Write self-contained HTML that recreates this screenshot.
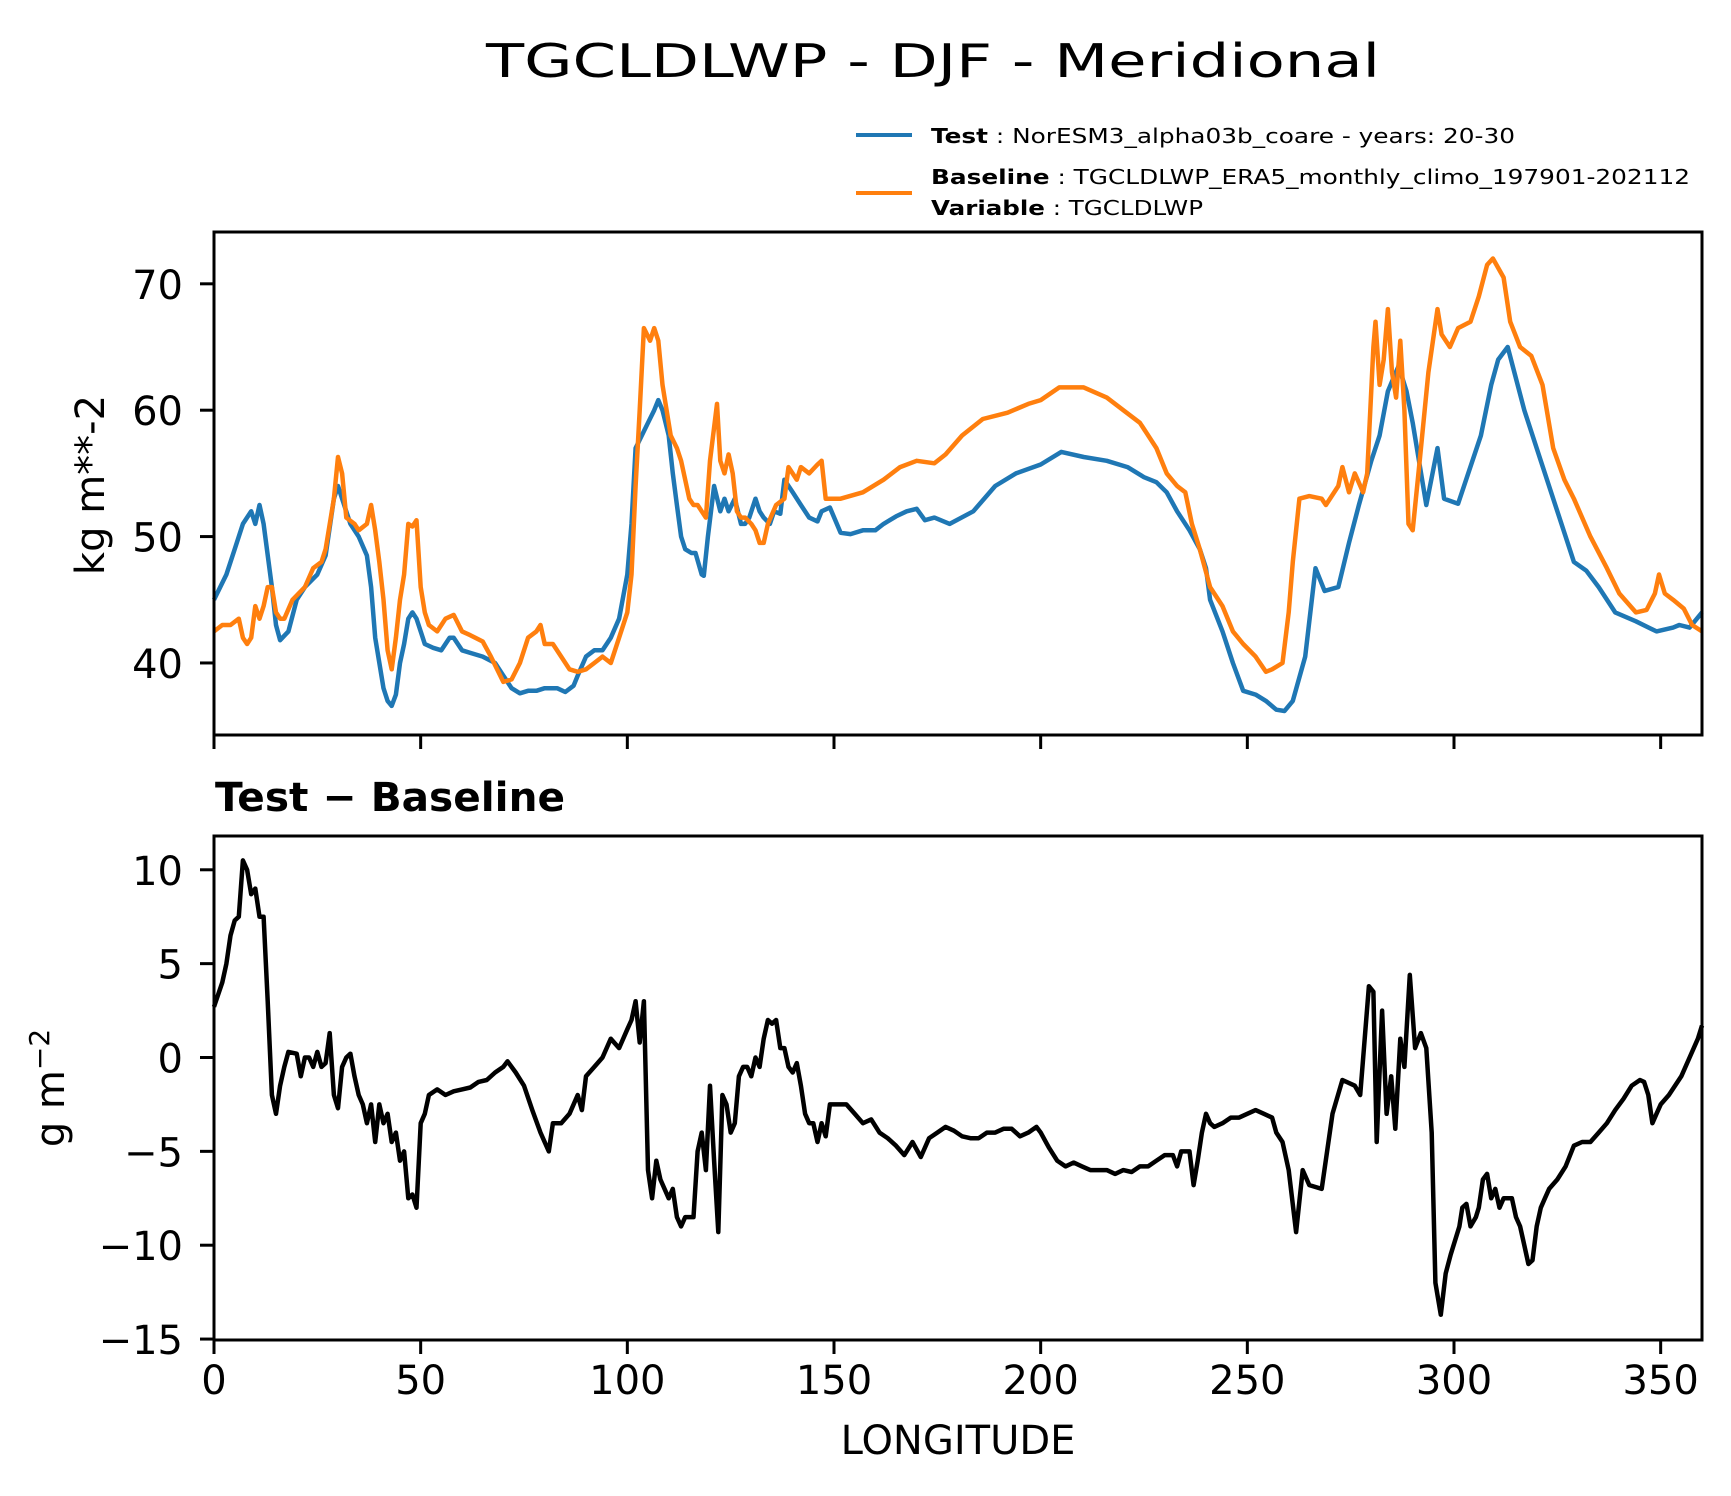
<!DOCTYPE html>
<html><head><meta charset="utf-8"><style>
html,body{margin:0;padding:0;background:#fff}
svg{display:block}
text{font-family:"DejaVu Sans","Liberation Sans",sans-serif;fill:#000}
</style></head><body>
<svg id="chart" width="1731" height="1496" viewBox="0 0 1731 1496" xmlns="http://www.w3.org/2000/svg">
<text x="933" y="77" font-size="46" text-anchor="middle" textLength="894" lengthAdjust="spacingAndGlyphs">TGCLDLWP - DJF - Meridional</text>
<g>
<line x1="856" y1="135" x2="912" y2="135" stroke="#1f77b4" stroke-width="4"/>
<text x="931" y="143" font-size="20" textLength="584" lengthAdjust="spacingAndGlyphs"><tspan font-weight="bold">Test</tspan> : NorESM3_alpha03b_coare - years: 20-30</text>
<line x1="856" y1="193" x2="912" y2="193" stroke="#ff7f0e" stroke-width="4"/>
<text x="931" y="184" font-size="20" textLength="759" lengthAdjust="spacingAndGlyphs"><tspan font-weight="bold">Baseline</tspan> : TGCLDLWP_ERA5_monthly_climo_197901-202112</text>
<text x="931" y="215" font-size="20" textLength="272" lengthAdjust="spacingAndGlyphs"><tspan font-weight="bold">Variable</tspan> : TGCLDLWP</text>
</g>
<g id="topPanel"></g>
<g id="botPanel"></g>
<text transform="translate(104,485) rotate(-90)" font-size="40" text-anchor="middle">kg m**-2</text>
<text transform="translate(64,1088) rotate(-90)" font-size="40" text-anchor="middle">g m<tspan font-size="28" dy="-15">−2</tspan></text>
<text x="215" y="811" font-size="40" font-weight="bold" textLength="350" lengthAdjust="spacingAndGlyphs">Test − Baseline</text>
<text x="958" y="1454" font-size="40" text-anchor="middle">LONGITUDE</text>
</svg>
<script>
const xTicks=[0,50,100,150,200,250,300,350];
const topYTicks=[40,50,60,70];
const botYTicks=[10,5,0,-5,-10,-15];
const blueLon=[0,3,5,7,9,10,11,12,14,15,16,18,20,22,25,27,29,30,31,33,35,37,38,39,41,42,43,44,45,46,47,48,49,50,51,53,55,57,58,60,62,65,68,70,72,74,76,78,80,83,85,87,88,90,92,94,96,98,100,101,102,103.5,105,106.5,107.5,108.5,110,111,112,113,114,115.5,116.5,118,118.5,119.5,121,122.5,123.5,124.5,126,127.5,128.5,129.5,131,132,133,134.5,135.5,137,138,139,140,142,144,146,147,149,151.6,154,157,160,162,165,167.6,170,172,174.3,178,183.7,189,194,200,205,210.4,216,221,225,228,230.5,233,236,238.5,240,241,244,246.5,249,252,254.5,257,259,261,264,266.5,268.7,272,274.6,277,280,282,284,286.6,288.5,290,293.3,296,297.6,301,306.5,309,310.7,313,317,321,325.5,329,332,335,339,344,349,353,354.5,357,360];
const blueVal=[45,47,49,51,52,51,52.5,51,46,43,41.8,42.5,45,46,47,48.5,53,54,53,51,50,48.5,46,42,38,37,36.6,37.5,40,41.5,43.5,44,43.5,42.5,41.5,41.2,41,42,42,41,40.8,40.5,40,39,38,37.6,37.8,37.8,38,38,37.7,38.2,39,40.5,41,41,42,43.5,47,51,57,58,59,60,60.8,60,58,55,52.5,50,49,48.7,48.7,47,46.9,50,54,52,53,52,53,51,51,51.5,53,52,51.5,51,52,51.8,54.5,54,53.5,52.5,51.5,51.2,52,52.3,50.3,50.2,50.5,50.5,51,51.6,52,52.2,51.3,51.5,51,52,54,55,55.7,56.7,56.3,56,55.5,54.7,54.3,53.5,52,50.5,49,47.5,45,42.5,40,37.8,37.5,37,36.3,36.2,37,40.5,47.5,45.7,46,49.5,52.5,56,58,61.5,63.5,61.5,59,52.5,57,53,52.6,58,62,64,65,60,56,51.5,48,47.3,46,44,43.3,42.5,42.8,43,42.8,44,44.3];
const orangeLon=[0,2,4,6,7,8,9,10,11,12,13,14,15,16,17,19,22,24,26,27,29,30,31,32,34,35,37,38,39,40,41,42,43,44,45,46,47,48,49,50,51,52,54,56,58,60,62,65,67,70,72,74,76,78,79,80,82,84,86,88,90,92,94,96,98,100,101,102,103,104,105.5,106.5,107.5,108.5,109.5,110.5,112,113,115,116,117,118,119,120,121.7,122.5,123.5,124.5,125.5,126.5,127.5,128.5,130,131,132,133,134,136,138,139,141,142,144,146,147,148,151.6,157,162,166,170,174.3,177,181,186,192,197,200,204.5,210.4,216,220,224,228,230.5,233,235,236.6,238.5,241,244,246.5,249,252,254.5,256,258.5,260,261,262.6,265,268,269,272,273,274.6,276,278,279,280.5,281,282,283,284,285,286,287,288,289,290,291.7,293.8,296,297,299,301,304,306,308,309.4,312,313.6,316,318.7,321.4,324,326.7,329,333,337,340,344,346.6,348.6,349.6,351,353,355.6,357.6,360];
const orangeVal=[42.5,43,43,43.5,42,41.5,42,44.5,43.5,44.5,46,46,44,43.5,43.5,45,46,47.5,48,49,53,56.3,55,51.5,51,50.5,51,52.5,50.5,48,45,41,39.5,42,45,47,51,50.8,51.3,46,44,43,42.5,43.5,43.8,42.5,42.2,41.7,40.5,38.5,38.7,40,42,42.5,43,41.5,41.5,40.5,39.5,39.3,39.5,40,40.5,40,42,44,47,54,60,66.5,65.5,66.5,65.5,62,60,58,57,56,53,52.5,52.5,52,51.5,56,60.5,56,55,56.5,55,52,51.5,51.5,51,50.5,49.5,49.5,51,52.5,53,55.5,54.5,55.5,55,55.7,56,53,53,53.5,54.5,55.5,56,55.8,56.5,58,59.3,59.8,60.5,60.8,61.8,61.8,61,60,59,57,55,54,53.5,51,49,46,44.5,42.5,41.5,40.5,39.3,39.5,40,44,48,53,53.2,53,52.5,54,55.5,53.5,55,53.5,55,65,67,62,64,68,63,61,65.5,60,51,50.5,56,63,68,66,65,66.5,67,69,71.5,72,70.5,67,65,64.3,62,57,54.5,53,50,47.5,45.5,44,44.2,45.5,47,45.5,45,44.3,43,42.5];
const diffLon=[0,2,3,4,5,6,7,8,9,10,11,12,13,14,15,16,17,18,20,21,22,23,24,25,26,27,28,29,30,31,32,33,34,35,36,37,38,39,40,41,42,43,44,45,46,47,48,49,50,51,52,54,56,58,60,62,64,66,68,70,71,73,75,77,79,81,82,84,86,88,89,90,92,94,96,98,100,101,102,103,104,105,106,107,108,110,111,112,113,114,116,117,118,119,120,121,122,123,124,125,126,127,128,129,130,131,132,133,134,135,136,137,138,139,140,141,142,143,144,145,146,147,148,149,151,153,155,157,159,161,163,165,167,169,171,173,175,177,179,181,183,185,187,189,191,193,195,197,199,200,202,204,206,208,210,212,214,216,218,220,222,224,226,228,230,232,233,234,236,237,238,239,240,241,242,244,246,248,250,252,254,256,257,258.5,260,261.8,263.4,265,268,270.6,273,276,277.3,279.4,280.5,281.3,282.6,283.7,284.8,285.8,287,288,289.3,290.6,292,293.3,294.6,295.5,296.8,298,299.2,301.3,302,303,304,305.3,306,307,308,309,310,311,312,314,315,316,317,318,319,320,321,322,323,325,327,329,331,333,335,337,339,341,343,345,346,347,348,349,350,352,355,357,359,360];
const diffVal=[2.7,4,5,6.5,7.3,7.5,10.5,10,8.7,9,7.5,7.5,3,-2,-3,-1.5,-0.5,0.3,0.2,-1,0,0,-0.5,0.3,-0.5,-0.3,1.3,-2,-2.7,-0.5,0,0.2,-1,-2,-2.5,-3.5,-2.5,-4.5,-2.5,-3.5,-3,-4.5,-4,-5.5,-5,-7.5,-7.3,-8,-3.5,-3,-2,-1.7,-2,-1.8,-1.7,-1.6,-1.3,-1.2,-0.8,-0.5,-0.2,-0.8,-1.5,-2.8,-4,-5,-3.5,-3.5,-3,-2,-2.8,-1,-0.5,0,1,0.5,1.5,2,3,0.8,3,-6,-7.5,-5.5,-6.5,-7.5,-7,-8.5,-9,-8.5,-8.5,-5,-4,-6,-1.5,-5.5,-9.3,-2,-2.5,-4,-3.5,-1,-0.5,-0.5,-1,0,-0.5,1,2,1.8,2,0.5,0.5,-0.5,-0.8,-0.3,-1.5,-3,-3.5,-3.5,-4.5,-3.5,-4.2,-2.5,-2.5,-2.5,-3,-3.5,-3.3,-4,-4.3,-4.7,-5.2,-4.5,-5.3,-4.3,-4,-3.7,-3.9,-4.2,-4.3,-4.3,-4,-4,-3.8,-3.8,-4.2,-4,-3.7,-4,-4.8,-5.5,-5.8,-5.6,-5.8,-6,-6,-6,-6.2,-6,-6.1,-5.8,-5.8,-5.5,-5.2,-5.2,-5.8,-5,-5,-6.8,-5.5,-4,-3,-3.5,-3.7,-3.5,-3.2,-3.2,-3,-2.8,-3,-3.2,-4,-4.5,-6,-9.3,-6,-6.8,-7,-3,-1.2,-1.5,-2,3.8,3.5,-4.5,2.5,-3,-1,-3.8,1,-0.5,4.4,0.5,1.3,0.5,-4,-12,-13.7,-11.5,-10.5,-9,-8,-7.8,-9,-8.5,-8,-6.5,-6.2,-7.5,-7,-8,-7.5,-7.5,-8.5,-9,-10,-11,-10.8,-9,-8,-7.5,-7,-6.5,-5.8,-4.7,-4.5,-4.5,-4,-3.5,-2.8,-2.2,-1.5,-1.2,-1.3,-2,-3.5,-3,-2.5,-2,-1,0,1,1.7,1.6];

const NS='http://www.w3.org/2000/svg';
const L=214,R=1702;
const xs=v=>L+(v-0)/360*(R-L);
const topT=232,topB=735,topMin=34.3,topMax=74.1;
const ysTop=v=>topB-(v-topMin)/(topMax-topMin)*(topB-topT);
const botT=836,botB=1340,botMin=-15.05,botMax=11.8;
const ysBot=v=>botB-(v-botMin)/(botMax-botMin)*(botB-botT);
function mk(tag,attrs,parent){const e=document.createElementNS(NS,tag);for(const k in attrs)e.setAttribute(k,attrs[k]);parent.appendChild(e);return e;}
function panel(g,T,B,ys,yTicks,showXLabels,pfx){
  for(const t of yTicks){
    const tk=mk('line',{x1:L-14,x2:L,y1:ys(t),y2:ys(t),stroke:'#000','stroke-width':3},g);
    
    
    const tx=mk('text',{x:183,y:ys(t)+15,'font-size':40,'text-anchor':'end'},g);
    tx.textContent=String(t).replace('-','−');
    
    
  }
  for(const t of xTicks){
    const tk=mk('line',{x1:xs(t),x2:xs(t),y1:B,y2:B+14,stroke:'#000','stroke-width':3},g);
    
    
    if(showXLabels){
      const tx=mk('text',{x:xs(t),y:B+54,'font-size':40,'text-anchor':'middle'},g);
      tx.textContent=t;
      
      
    }
  }
}
function series(g,lon,val,ys,color,name){
  const d=lon.map((x,i)=>(i?'L':'M')+xs(x).toFixed(1)+' '+ys(val[i]).toFixed(1)).join(' ');
  const p=mk('path',{d:d,fill:'none',stroke:color,'stroke-width':4.5,'stroke-linejoin':'round'},g);
  
  
}
const topG=document.getElementById('topPanel'), botG=document.getElementById('botPanel');
panel(topG,topT,topB,ysTop,topYTicks,false,'top');
series(topG,blueLon,blueVal,ysTop,'#1f77b4','test-line');
series(topG,orangeLon,orangeVal,ysTop,'#ff7f0e','baseline-line');
const f1=mk('rect',{x:L,y:topT,width:R-L,height:topB-topT,fill:'none',stroke:'#000','stroke-width':3},topG);


panel(botG,botT,botB,ysBot,botYTicks,true,'bottom');
series(botG,diffLon,diffVal,ysBot,'#000','difference-line');
const f2=mk('rect',{x:L,y:botT,width:R-L,height:botB-botT,fill:'none',stroke:'#000','stroke-width':3},botG);


</script>
</body></html>
